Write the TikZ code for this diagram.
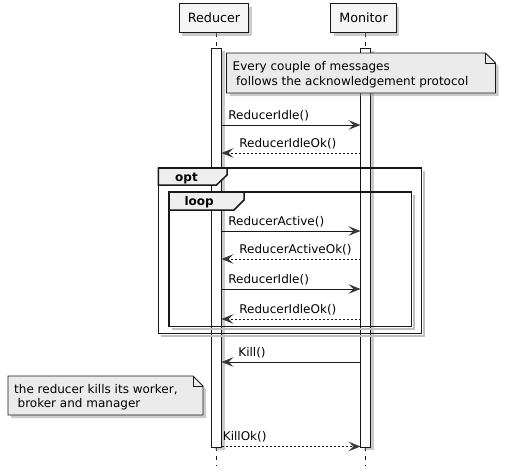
\documentclass[tikz,border=0pt]{standalone}
\usepackage{fontspec}
\setmainfont{DejaVu Sans}
\usepackage{tikz}
\usetikzlibrary{shadows, arrows.meta}
\definecolor{umlline}{HTML}{181818}
\definecolor{umlhead}{HTML}{383838}
\definecolor{partfill}{HTML}{F5F5F5}
\definecolor{notefill}{HTML}{EBEBEB}
\definecolor{tabfill}{HTML}{EEEEEE}
\tikzset{
    umlshadow/.style={drop shadow={shadow xshift=3pt, shadow yshift=-3pt, fill=black!45, opacity=0.45}},
    participant/.style={draw=umlline, fill=partfill, line width=0.8pt, minimum height=29pt,
        inner xsep=8.5pt, font=\fontsize{12.75}{15}\selectfont, umlshadow},
    lifeline/.style={draw=umlline, line width=0.6pt, dash pattern=on 4pt off 5pt},
    actbar/.style={draw=umlline, fill=white, line width=0.8pt, umlshadow},
    notebox/.style={draw=umlline, fill=notefill, line width=0.8pt, umlshadow},
    notetext/.style={anchor=base west, align=left, inner sep=0pt, font=\fontsize{12}{14.5}\selectfont},
    msg/.style={draw=umlline, line width=0.8pt, -{Stealth[length=12pt, width=9.5pt, inset=5pt, color=umlhead]}},
    reply/.style={msg, dash pattern=on 2pt off 2pt},
    msglabel/.style={anchor=base west, inner sep=0pt, font=\fontsize{12}{14}\selectfont},
    frame/.style={draw=umlline, line width=1.5pt},
    frameshadow/.style={draw=black!25, line width=2pt},
    frametab/.style={frame, fill=tabfill},
    framelabel/.style={anchor=base west, inner sep=0pt, font=\bfseries\fontsize{12}{14}\selectfont}
}
\begin{document}
\begin{tikzpicture}[x=1pt, y=-1pt]
    \useasboundingbox (0,0) rectangle (507,475);

    % ---------------- participants ----------------
    \coordinate (rtop) at (216.5,33);
    \coordinate (rbot) at (216.5,466);
    \coordinate (mtop) at (365.5,33);
    \coordinate (mbot) at (365.5,466);

    \draw[lifeline] (rtop) -- (rbot);
    \draw[lifeline] (mtop) -- (mbot);

    \node[participant] (reducer) at (214,18) {Reducer};
    \node[participant] (monitor) at (363.5,18) {Monitor};

    \draw[actbar] (211.5,48) rectangle (221.5,447);
    \draw[actbar] (360.5,48) rectangle (370.5,447);

    % message end points on the bars
    \foreach \n/\y in {1/125, 2/153, 3/231, 4/259, 5/289, 6/319, 7/362, 8/446.5} {
        \coordinate (r\n) at (221.5,\y);
        \coordinate (m\n) at (360.5,\y);
    }

    % ---------------- note ----------------
    \draw[notebox] (226.5,53) -- (485.5,53) -- (495.5,63) -- (495.5,93) -- (226.5,93) -- cycle;
    \draw[draw=umlline, line width=0.8pt] (485.5,53) -- (485.5,63) -- (495.5,63);
    \node[notetext] (protocol) at (232.5,85)
        {Every couple of messages\\\hspace*{3.5pt}follows the acknowledgement protocol};

    % ---------------- messages ----------------
    \draw[msg] (r1) -- (m1) node[msglabel, pos=0, xshift=6.5pt, yshift=6pt] (idle1) {ReducerIdle()};
    \draw[reply] (m2) -- (r2) node[msglabel, pos=1, xshift=17.5pt, yshift=6pt] (idleok1) {ReducerIdleOk()};
    \draw[msg] (r3) -- (m3) node[msglabel, pos=0, xshift=6.5pt, yshift=6pt] (active) {ReducerActive()};
    \draw[reply] (m4) -- (r4) node[msglabel, pos=1, xshift=17.5pt, yshift=6pt] (activeok) {ReducerActiveOk()};
    \draw[msg] (r5) -- (m5) node[msglabel, pos=0, xshift=6.5pt, yshift=6pt] (idle2) {ReducerIdle()};
    \draw[reply] (m6) -- (r6) node[msglabel, pos=1, xshift=17.5pt, yshift=6pt] (idleok2) {ReducerIdleOk()};
    \draw[msg] (m7) -- (r7) node[msglabel, pos=1, xshift=16.5pt, yshift=6pt] (kill) {Kill()};
    \draw[reply] (r8) -- (m8) node[msglabel, pos=0, xshift=1pt, yshift=6pt] (killok) {KillOk()};

    % ---------------- opt ----------------
    \draw[frameshadow] (423.5,171) -- (423.5,335.5) -- (161,335.5);
    \draw[frame] (158.3,168) rectangle (421.7,333.3);
    \draw[frametab] (158.3,168) -- (227,168) -- (227,175) -- (216.5,185) -- (158.3,185) -- cycle;
    \node[framelabel] (opt) at (175,181.5) {opt};

    % ---------------- loop ----------------
    \draw[frameshadow] (413.7,195) -- (413.7,328.8) -- (172,328.8);
    \draw[frame] (169,192) rectangle (411.7,326.7);
    \draw[frametab] (169,192) -- (244,192) -- (244,200) -- (234,210) -- (169,210) -- cycle;
    \node[framelabel] (loop) at (184.3,205.5) {loop};

    % ---------------- note ----------------
    \draw[notebox] (8,376) -- (193,376) -- (203,386) -- (203,415) -- (8,415) -- cycle;
    \draw[draw=umlline, line width=0.8pt] (193,376) -- (193,386) -- (203,386);
    \node[notetext] (kills) at (14,407.5)
        {the reducer kills its worker,\\\hspace*{3.5pt}broker and manager};
\end{tikzpicture}
\end{document}
